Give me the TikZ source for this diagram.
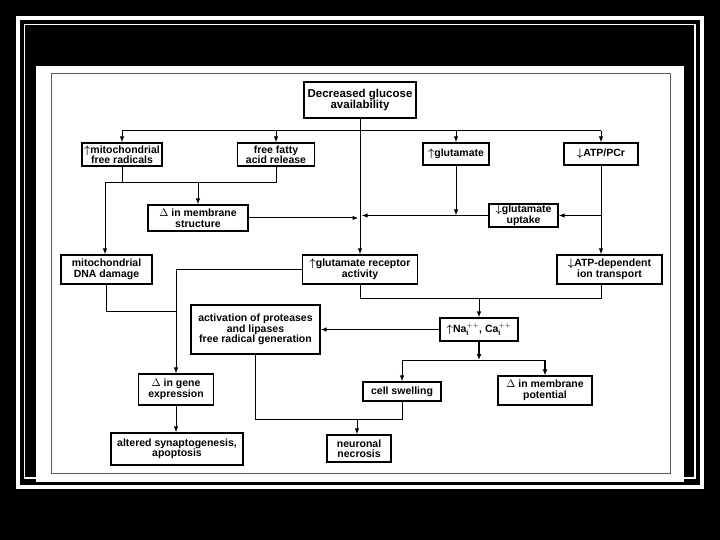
\documentclass[tikz,border=0pt]{standalone}
\usepackage{amsmath,amssymb}
\usepackage{fontspec}
\setmainfont{Liberation Sans}
\usepackage{xcolor}
\definecolor{framegray}{RGB}{90, 90, 90}
\usetikzlibrary{arrows.meta}

\tikzset{
    box/.style={draw, line width=1.1pt, fill=white, align=center, inner sep=1pt,
        font=\fontsize{10.5}{10.5}\selectfont\bfseries},
    link/.style={line width=1pt},
    arr/.style={link, -{Latex[length=6pt, width=4.4pt]}},
    heavyarr/.style={line width=1.8pt, -{Latex[length=6pt, width=5pt]}}
}
\newcommand{\up}{$\boldsymbol{\uparrow}$}
\newcommand{\down}{$\boldsymbol{\downarrow}$}
\newcommand{\ion}[1]{#1$_{\mathbf{i}}^{\mathbf{++}}$}

\begin{document}
\begin{tikzpicture}[x=1pt, y=-1pt]

\useasboundingbox (0,0) rectangle (720,540);

% === Marco ===
\fill[black] (0,0) rectangle (720,540);
\draw[white, line width=4pt] (18,18) rectangle (702,487);
\draw[white, line width=1.3pt] (24.5,24.5) rectangle (695,478);
\fill[white] (36,66) rectangle (684,482);
\draw[framegray, line width=1pt] (51.5,73.5) rectangle (670,473);

% === Cajas ===
\node[box, minimum width=112pt, minimum height=36pt, font=\fontsize{11.5}{11.5}\selectfont\bfseries]
    (gluc) at (360,100) {Decreased glucose\\availability};

\node[box, minimum width=80pt, minimum height=23pt] (mitorad) at (122,154.5)
    {\up mitochondrial\\free radicals};
\node[box, minimum width=77pt, minimum height=23pt] (ffa) at (276,154.5)
    {free fatty\\acid release};
\node[box, minimum width=66pt, minimum height=22pt] (glu) at (456,154)
    {\up glutamate};
\node[box, minimum width=74pt, minimum height=22pt] (atp) at (601,154)
    {\down ATP/PCr};

\node[box, minimum width=100pt, minimum height=26pt] (memstr) at (198,218)
    {$\Delta$ in membrane\\structure};
\node[box, minimum width=69pt, minimum height=23pt] (uptake) at (523.5,215.5)
    {\down glutamate\\uptake};

\node[box, minimum width=91pt, minimum height=29pt] (mitodna) at (106.5,269.5)
    {mitochondrial\\DNA damage};
\node[box, minimum width=115pt, minimum height=29pt] (recep) at (360,269.5)
    {\up glutamate receptor\\activity};
\node[box, minimum width=105pt, minimum height=29pt] (atpdep) at (609.5,269.5)
    {\down ATP-dependent\\ion transport};

\node[box, minimum width=129pt, minimum height=49pt] (prot) at (255.5,329.5)
    {activation of proteases\\and lipases\\free radical generation};
\node[box, minimum width=78pt, minimum height=23pt] (naca) at (479,329.5)
    {\up \ion{Na}, \ion{Ca}};

\node[box, minimum width=75pt, minimum height=31pt] (gene) at (176,389.5)
    {$\Delta$ in gene\\expression};
\node[box, minimum width=78pt, minimum height=19pt] (swell) at (402,391.5)
    {cell swelling};
\node[box, minimum width=94pt, minimum height=29pt] (mempot) at (545,390.5)
    {$\Delta$ in membrane\\potential};

\node[box, minimum width=132pt, minimum height=32pt] (alter) at (177,449)
    {altered synaptogenesis,\\apoptosis};
\node[box, minimum width=64pt, minimum height=27pt] (necro) at (359,448.5)
    {neuronal\\necrosis};

% === Coordenadas de las barras ===
\coordinate (topbar) at (360,131);
\coordinate (lipbar) at (105,183);
\coordinate (ionbar) at (479,298);
\coordinate (splitbar) at (479,360);
\coordinate (necbar) at (357,419);
\coordinate (dnabar) at (176,311);

% === Conectores ===
% Tronco central
\draw[arr] (gluc.south) -- (gluc.south |- recep.north);

% Barra superior
\draw[link] (mitorad.north |- topbar) -- (atp.north |- topbar);
\draw[arr] (mitorad.north |- topbar) -- (mitorad.north);
\draw[arr] (ffa.north |- topbar) -- (ffa.north);
\draw[arr] (glu.north |- topbar) -- (glu.north);
\draw[arr] (atp.north |- topbar) -- (atp.north);

% Radicales y acidos grasos
\draw[link] (mitorad.south) -- (mitorad.south |- lipbar);
\draw[link] (ffa.south) -- (ffa.south |- lipbar);
\draw[link] (lipbar) -- (ffa.south |- lipbar);
\draw[arr] (memstr.north |- lipbar) -- (memstr.north);
\draw[arr] (lipbar) -- (lipbar |- mitodna.north);

% Hacia el tronco central
\draw[arr, shorten >=1.5pt] (memstr.east) -- (gluc.south |- memstr.east);
\draw[arr, shorten >=1.5pt] (uptake.west) -- (gluc.south |- uptake.west);
\draw[arr] (glu.south) -- (glu.south |- uptake.west);
\draw[arr] (atp.south |- uptake.east) -- (uptake.east);
\draw[arr] (atp.south) -- (atp.south |- atpdep.north);

% Hacia Na/Ca
\draw[link] (recep.south) |- (atp.south |- ionbar) -- (atp.south |- atpdep.south);
\draw[arr] (ionbar) -- (naca.north);
\draw[arr] (naca.west) -- (prot.east);

% Salidas de Na/Ca
\draw[heavyarr] (naca.south) -- (splitbar);
\draw[link] (swell.north |- splitbar) -- (mempot.north |- splitbar);
\draw[arr] (swell.north |- splitbar) -- (swell.north);
\draw[heavyarr] (mempot.north |- splitbar) -- (mempot.north);

% Necrosis
\draw[link] (swell.south) |- (prot.south |- necbar) -- (prot.south);
\draw[arr] (necbar) -- (necbar |- necro.north);

% Expresion genica
\draw[arr] (recep.west) -| (gene.north);
\draw[link] (mitodna.south) |- (dnabar);
\draw[arr] (gene.south) -- (gene.south |- alter.north);

\end{tikzpicture}
\end{document}
